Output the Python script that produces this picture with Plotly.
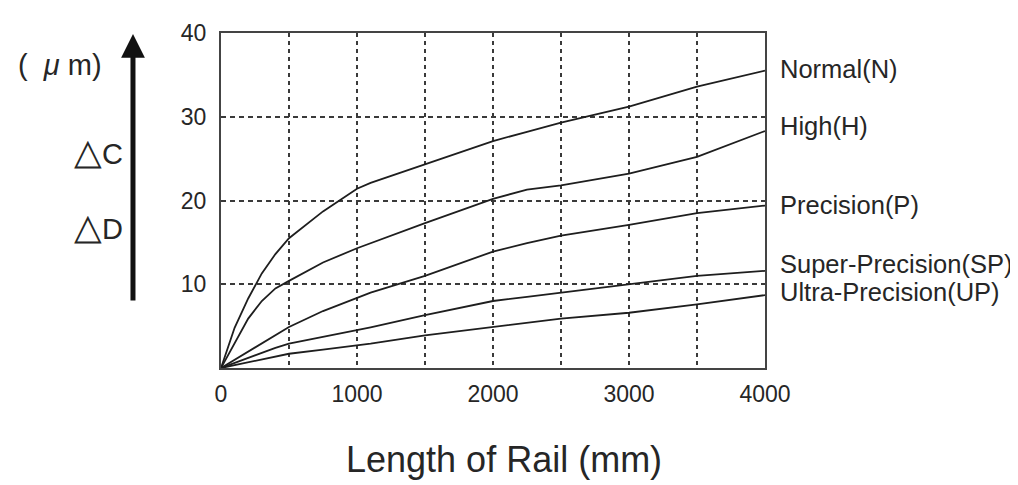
import plotly.graph_objects as go

length_mm = [0, 100, 200, 300, 400, 500, 750, 1000, 1100, 1500, 2000, 2250, 2500, 3000, 3500, 4000]
normal_n = [0, 4.8, 8.3, 11.3, 13.6, 15.5, 18.7, 21.4, 22.1, 24.3, 27.1, 28.2, 29.3, 31.2, 33.6, 35.5]
high_h = [0, 3.0, 5.9, 8.0, 9.5, 10.4, 12.6, 14.3, 14.9, 17.3, 20.2, 21.3, 21.8, 23.2, 25.2, 28.3]
precision_p = [0, 1.0, 2.0, 3.0, 4.0, 4.9, 6.8, 8.4, 9.0, 11.0, 13.9, 14.9, 15.8, 17.1, 18.5, 19.4]
super_sp = [0, 0.6, 1.2, 1.8, 2.4, 2.9, 3.7, 4.5, 4.85, 6.3, 8.0, 8.5, 9.0, 10.0, 11.0, 11.6]
ultra_up = [0, 0.35, 0.7, 1.05, 1.4, 1.7, 2.2, 2.7, 2.9, 3.9, 4.9, 5.4, 5.9, 6.6, 7.6, 8.7]

series = [
    ("Normal(N)", normal_n, 0.894),
    ("High(H)", high_h, 0.723),
    ("Precision(P)", precision_p, 0.487),
    ("Super-Precision(SP)", super_sp, 0.310),
    ("Ultra-Precision(UP)", ultra_up, 0.228),
]

x_tickvals = [0, 500, 1000, 1500, 2000, 2500, 3000, 3500, 4000]
x_ticktext = ["0", "", "1000", "", "2000", "", "3000", "", "4000"]
y_tickvals = [10, 20, 30, 40]
y_ticktext = ["10", "20", "30", "40"]

FONT = "Liberation Sans, Arial, sans-serif"
INK = "#262626"

fig = go.Figure()
for name, vals, _ in series:
    fig.add_trace(go.Scatter(x=length_mm, y=vals, mode="lines", name=name,
                             line=dict(color="#1e1e1e", width=1.8), showlegend=False,
                             cliponaxis=False))

annotations = []
for name, _, ypos in series:
    annotations.append(dict(text=name, xref="paper", yref="paper", x=1.024, y=ypos,
                            xanchor="left", yanchor="middle", showarrow=False,
                            font=dict(size=25.5, color=INK, family=FONT)))

tri = '<span style="font-size:36px">△</span>'
annotations += [
    dict(text="(\u00a0\u00a0<i>μ</i>\u00a0m)", xref="paper", yref="paper", x=-0.296, y=0.905,
         xanchor="center", yanchor="middle", showarrow=False,
         font=dict(size=29, color=INK, family=FONT)),
    dict(text=tri + "C", xref="paper", yref="paper", x=-0.226, y=0.645,
         xanchor="center", yanchor="middle", showarrow=False,
         font=dict(size=29, color=INK, family=FONT)),
    dict(text=tri + "D", xref="paper", yref="paper", x=-0.226, y=0.421,
         xanchor="center", yanchor="middle", showarrow=False,
         font=dict(size=29, color=INK, family=FONT)),
    dict(text="Length of Rail (mm)", xref="paper", yref="paper", x=0.52, y=-0.272,
         xanchor="center", yanchor="middle", showarrow=False,
         font=dict(size=36, color=INK, family=FONT)),
    dict(text="", xref="paper", yref="paper", x=-0.1618, y=0.997,
         ax=0, ay=268, axref="pixel", ayref="pixel", showarrow=True,
         arrowhead=2, arrowsize=0.95, arrowwidth=5, arrowcolor="#111111", standoff=0),
]

fig.update_layout(
    width=1010, height=477,
    margin=dict(l=213, r=253, t=21, b=117, pad=0),
    paper_bgcolor="white", plot_bgcolor="white",
    font=dict(family=FONT, color=INK, size=23),
    annotations=annotations,
    xaxis=dict(range=[0, 4000], tickvals=x_tickvals, ticktext=x_ticktext,
               showgrid=True, gridcolor="#3a3a3a", gridwidth=1.5, griddash="4px,4px",
               showline=True, mirror=True, linecolor="#444444", linewidth=2,
               ticks="", ticklabelstandoff=4, zeroline=False,
               tickfont=dict(size=23, color=INK, family=FONT)),
    yaxis=dict(range=[0, 40], tickvals=y_tickvals, ticktext=y_ticktext,
               showgrid=True, gridcolor="#3a3a3a", gridwidth=1.5, griddash="5px,4px",
               showline=True, mirror=True, linecolor="#444444", linewidth=2,
               ticks="", ticklabelstandoff=8, zeroline=False,
               tickfont=dict(size=23, color=INK, family=FONT)),
)

fig.write_html("out.html")
